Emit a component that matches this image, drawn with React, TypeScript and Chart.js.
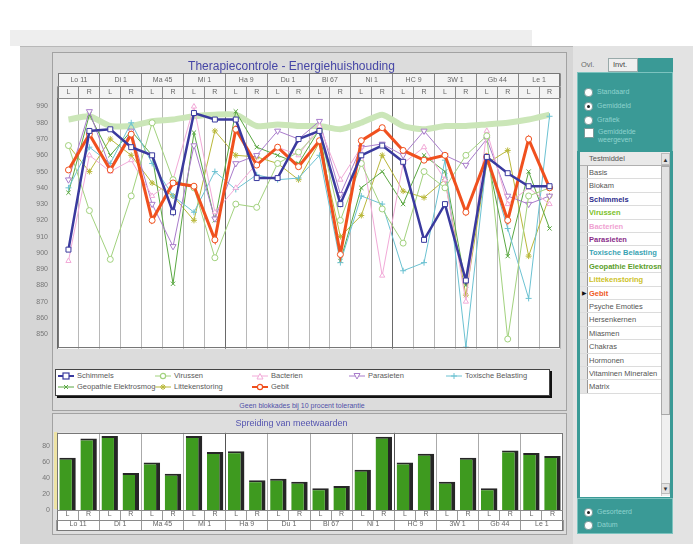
import React, { useEffect, useRef } from 'react';
import { Chart, registerables } from 'chart.js';

Chart.register(...registerables);

const FONT = "'Liberation Sans', Arial, sans-serif";

// ---- categories / ticks ----
const groupLabels = ['Lo 11', 'Di 1', 'Ma 45', 'Mi 1', 'Ha 9', 'Du 1', 'Bl 67', 'Ni 1', 'HC 9', '3W 1', 'Gb 44', 'Le 1'];
const sideLabels = ['L', 'R'];
const yTicks = [990, 980, 970, 960, 950, 940, 930, 920, 910, 900, 890, 880, 870, 860, 850];
const barTicks = [0, 20, 40, 60, 80];

// ---- series values (24 points: L/R per group) ----
const schimmels = [902, 975, 976, 965, 960, 925, 986, 982, 982, 946, 946, 970, 975, 930, 960, 966, 956, 908, 930, 883, 959, 949, 941, 941];
const virussen = [966, 926, 896, 935, 980, 945, 940, 897, 930, 928, 955, 962, 975, 920, 955, 927, 906, 950, 940, 960, 972, 847, 935, 940];
const bacterien = [895, 960, 950, 957, 935, 945, 990, 925, 940, 955, 965, 960, 978, 945, 965, 886, 955, 965, 945, 870, 975, 930, 940, 930];
const parasieten = [945, 987, 952, 975, 930, 904, 966, 921, 955, 960, 975, 970, 981, 936, 965, 967, 960, 975, 960, 954, 970, 935, 930, 935];
const toxische = [940, 965, 955, 980, 955, 935, 925, 950, 939, 948, 945, 946, 960, 894, 935, 930, 889, 894, 957, 842, 958, 915, 872, 984];
const geopathie = [937, 985, 960, 975, 960, 881, 974, 920, 987, 965, 960, 955, 976, 895, 940, 950, 930, 960, 950, 880, 960, 898, 950, 915];
const littekenstoring = [966, 950, 970, 960, 943, 935, 920, 975, 960, 959, 955, 945, 968, 910, 923, 960, 938, 934, 945, 874, 955, 963, 898, 935];
const gebit = [951, 973, 951, 973, 920, 943, 941, 908, 976, 954, 965, 953, 969, 899, 969, 977, 963, 957, 960, 925, 959, 920, 970, 940];
const referentie = [982, 984, 978, 978, 981, 982, 984, 985, 985, 978, 979, 978, 978, 976, 980, 985, 978, 976, 978, 978, 979, 980, 982, 985];
const spreiding = [65, 89, 92, 46, 59, 45, 92, 72, 73, 37, 39, 35, 27, 30, 50, 91, 59, 70, 35, 65, 27, 74, 71, 67];

const TITLE = 'Therapiecontrole - Energiehuishouding';
const BAR_TITLE = 'Spreiding van meetwaarden';
const NOTE = 'Geen blokkades bij 10 procent tolerantie';

const subLabels = groupLabels.flatMap(() => sideLabels);

type Def = { name: string; data: number[]; color: string; width: number; point: string; rotation?: number; order: number; radius: number };

const seriesDefs: Def[] = [
  { name: 'Schimmels', data: schimmels, color: '#3a3a9e', width: 2.5, point: 'rect', order: -2, radius: 3.5 },
  { name: 'Virussen', data: virussen, color: '#a2d27e', width: 1, point: 'circle', order: 1, radius: 3 },
  { name: 'Bacterien', data: bacterien, color: '#f2aad8', width: 1, point: 'triangle', order: 1, radius: 3 },
  { name: 'Parasieten', data: parasieten, color: '#a97ccb', width: 1, point: 'triangle', rotation: 180, order: 1, radius: 3.5 },
  { name: 'Toxische Belasting', data: toxische, color: '#6cc2d2', width: 1, point: 'cross', order: 1, radius: 3 },
  { name: 'Geopathie Elektrosmog', data: geopathie, color: '#5aa842', width: 1, point: 'crossRot', order: 1, radius: 3 },
  { name: 'Littekenstoring', data: littekenstoring, color: '#b9b83a', width: 1, point: 'star', order: 1, radius: 3 },
  { name: 'Gebit', data: gebit, color: '#f0501e', width: 3, point: 'circle', order: -1, radius: 3 },
];

const listItems: { t: string; c?: string }[] = [
  { t: 'Basis' }, { t: 'Biokam' },
  { t: 'Schimmels', c: '#2c2c8c' }, { t: 'Virussen', c: '#7cbf2a' }, { t: 'Bacterien', c: '#f0a2d2' },
  { t: 'Parasieten', c: '#8a2d8a' }, { t: 'Toxische Belasting', c: '#3aa3b3' }, { t: 'Geopathie Elektrosmog', c: '#5a9e2a' },
  { t: 'Littekenstoring', c: '#cdc228' }, { t: 'Gebit', c: '#ee5a1e' },
  { t: 'Psyche Emoties' }, { t: 'Hersenkernen' }, { t: 'Miasmen' }, { t: 'Chakras' }, { t: 'Hormonen' },
  { t: 'Vitaminen Mineralen' }, { t: 'Matrix' },
];

const panelPlugin = {
  id: 'panel',
  beforeDraw(chart: any, _a: any, opts: any) {
    const { ctx, chartArea: a } = chart;
    const xs = chart.scales.x, x2 = chart.scales.x2;
    const top = Math.min(xs.top, x2.top), bottom = Math.max(xs.bottom, x2.bottom);
    ctx.save();
    ctx.fillStyle = opts.band || '#f4f4f4';
    ctx.fillRect(a.left, top, a.right - a.left, bottom - top);
    ctx.fillStyle = '#ffffff';
    ctx.fillRect(a.left, a.top, a.right - a.left, a.bottom - a.top);
    ctx.restore();
  },
  afterDraw(chart: any) {
    const { ctx, chartArea: a } = chart;
    const xs = chart.scales.x, x2 = chart.scales.x2;
    const top = Math.min(xs.top, x2.top, a.top), bottom = Math.max(xs.bottom, x2.bottom, a.bottom);
    ctx.save();
    ctx.strokeStyle = '#777';
    ctx.lineWidth = 1;
    ctx.strokeRect(Math.round(a.left) + 0.5, Math.round(top) + 0.5, Math.round(a.right - a.left) - 1, Math.round(bottom - top) - 1);
    const mids = [xs.top, xs.bottom, x2.top, x2.bottom];
    ctx.strokeStyle = '#8a8a8a';
    mids.forEach((y: number) => {
      if (y > top + 1 && y < bottom - 1) {
        ctx.beginPath();
        ctx.moveTo(a.left, Math.round(y) + 0.5);
        ctx.lineTo(a.right, Math.round(y) + 0.5);
        ctx.stroke();
      }
    });
    ctx.restore();
  },
};

function Swatch({ d }: { d: Def }) {
  const c = d.color;
  let shape: any = null;
  if (d.point === 'rect') shape = <rect x={5} y={1} width={6} height={6} fill="#fff" stroke={c} strokeWidth={1.2} />;
  else if (d.point === 'circle') shape = <circle cx={8} cy={4} r={2.6} fill="#fff" stroke={c} strokeWidth={1.2} />;
  else if (d.point === 'triangle' && d.rotation) shape = <polygon points="5,1.5 11,1.5 8,7" fill="#fff" stroke={c} />;
  else if (d.point === 'triangle') shape = <polygon points="5,7 11,7 8,1.5" fill="#fff" stroke={c} />;
  else if (d.point === 'cross') shape = <path d="M8 1 V7 M5 4 H11" stroke={c} />;
  else if (d.point === 'crossRot') shape = <path d="M6 2 L10 6 M10 2 L6 6" stroke={c} />;
  else if (d.point === 'star') shape = <path d="M8 1 V7 M5 4 H11 M6 2 L10 6 M10 2 L6 6" stroke={c} />;
  return (
    <svg width={16} height={8} style={{ verticalAlign: 'middle', marginRight: 3 }}>
      <line x1={0} y1={4} x2={16} y2={4} stroke={c} strokeWidth={Math.min(d.width, 2)} />
      {shape}
    </svg>
  );
}

function Radio({ checked }: { checked?: boolean }) {
  return (
    <span style={{ display: 'inline-block', width: 7, height: 7, borderRadius: 4, background: '#fff', border: '1px solid #7a9a9a', position: 'relative', verticalAlign: 'middle', marginRight: 4 }}>
      {checked ? <span style={{ position: 'absolute', left: 2, top: 2, width: 3, height: 3, borderRadius: 2, background: '#222' }} /> : null}
    </span>
  );
}

const abs = (left: number, top: number, width: number, height: number, extra: any = {}) => ({ position: 'absolute' as const, left, top, width, height, boxSizing: 'border-box' as const, ...extra });

export default function App() {
  const lineRef = useRef<HTMLCanvasElement>(null);
  const barRef = useRef<HTMLCanvasElement>(null);

  useEffect(() => {
    Chart.defaults.font.family = FONT;
    const tickFont = { size: 7, family: FONT };

    const line = new Chart(lineRef.current!, {
      type: 'line',
      data: {
        labels: subLabels,
        datasets: [
          {
            label: 'Referentie', data: referentie, borderColor: '#cbe6b8', borderWidth: 6, pointRadius: 0,
            tension: 0.2, order: 10,
          } as any,
          ...seriesDefs.map((d) => ({
            label: d.name, data: d.data, borderColor: d.color, borderWidth: d.width,
            pointStyle: d.point as any, pointRotation: d.rotation || 0, pointRadius: d.radius,
            pointBorderColor: d.color, pointBackgroundColor: '#ffffff', pointBorderWidth: 1,
            tension: 0, order: d.order,
          })),
        ],
      },
      options: {
        animation: false, responsive: false, maintainAspectRatio: false,
        layout: { padding: { left: 0, right: 2, top: 0, bottom: 5 } },
        plugins: {
          legend: { display: false }, tooltip: { enabled: false },
          title: { display: true, text: TITLE, color: '#4646a6', font: { size: 12, weight: 'normal', family: FONT }, padding: { top: 4, bottom: 0 } },
          panel: { band: '#f3f3f3' },
        } as any,
        scales: {
          x: {
            type: 'category', position: 'top', offset: true, weight: 0,
            grid: { offset: true, tickLength: 12, color: (c: any) => (c.index % 8 === 0 ? '#6a6a6a' : '#b8b8b8'), tickColor: '#8a8a8a' },
            border: { display: false },
            ticks: { color: '#666', font: tickFont, padding: -10, maxRotation: 0, autoSkip: false },
            afterFit: (s: any) => { s.height = 12; },
          },
          x2: {
            type: 'category', labels: groupLabels, position: 'top', offset: true, weight: 1,
            grid: { offset: true, drawOnChartArea: false, tickLength: 13, color: '#8a8a8a' },
            border: { display: false },
            ticks: { color: '#666', font: tickFont, padding: -11, maxRotation: 0, autoSkip: false },
            afterFit: (s: any) => { s.height = 13; },
          },
          y: {
            min: 841, max: 995,
            grid: { display: false, drawTicks: false }, border: { display: false },
            ticks: { color: '#777', font: tickFont, padding: 10 },
            afterBuildTicks: (s: any) => { s.ticks = yTicks.map((v) => ({ value: v })); },
            afterFit: (s: any) => { s.width = 38; },
          },
        } as any,
      },
      plugins: [panelPlugin],
    });

    const bar = new Chart(barRef.current!, {
      type: 'bar',
      data: {
        labels: subLabels,
        datasets: [{
          label: BAR_TITLE, data: spreiding, backgroundColor: '#3e9a1f', borderColor: '#262626',
          borderWidth: { top: 2, right: 4, bottom: 0, left: 0 } as any, borderSkipped: false as any,
          barPercentage: 0.78, categoryPercentage: 1,
        }],
      },
      options: {
        animation: false, responsive: false, maintainAspectRatio: false,
        layout: { padding: { left: 0, right: 2, top: 0, bottom: 1 } },
        plugins: {
          legend: { display: false }, tooltip: { enabled: false },
          title: { display: true, text: BAR_TITLE, color: '#5555b0', font: { size: 9, weight: 'normal', family: FONT }, padding: { top: 4, bottom: 4 } },
          panel: { band: '#ffffff' },
        } as any,
        scales: {
          x: {
            type: 'category', position: 'bottom', offset: true, weight: 0,
            grid: { offset: true, tickLength: 10, color: (c: any) => (c.index % 8 === 0 ? '#555' : c.index % 2 === 0 ? '#aaa' : 'rgba(0,0,0,0)'), tickColor: '#999' },
            border: { display: false },
            ticks: { color: '#666', font: tickFont, padding: -10, maxRotation: 0, autoSkip: false },
            afterFit: (s: any) => { s.height = 10; },
          },
          x2: {
            type: 'category', labels: groupLabels, position: 'bottom', offset: true, weight: 1,
            grid: { offset: true, drawOnChartArea: false, tickLength: 11, color: '#999' },
            border: { display: false },
            ticks: { color: '#666', font: tickFont, padding: -11, maxRotation: 0, autoSkip: false },
            afterFit: (s: any) => { s.height = 11; },
          },
          y: {
            min: 0, max: 96,
            grid: { display: false, drawTicks: false }, border: { display: false },
            ticks: { color: '#777', font: tickFont, padding: 7 },
            afterBuildTicks: (s: any) => { s.ticks = barTicks.map((v) => ({ value: v })); },
            afterFit: (s: any) => { s.width = 37; },
          },
        } as any,
      },
      plugins: [panelPlugin],
    });

    return () => { line.destroy(); bar.destroy(); };
  }, []);

  const legendCols = [58, 155, 252, 349, 446];
  const rowH = 13.4;

  return (
    <div style={{ position: 'absolute', left: 0, top: 0, width: 700, height: 546, overflow: 'hidden', background: '#ffffff', fontFamily: FONT }}>
      {/* background frames */}
      <div style={abs(10, 30, 522, 16, { background: '#eeeeee' })} />
      <div style={abs(20, 46, 553, 498, { background: '#d6d6d6', borderTop: '1px solid #b8b8b8' })} />
      <div style={abs(573, 46, 120, 498, { background: '#e3e3e3' })} />

      {/* main chart panel */}
      <div style={abs(52, 52, 515, 359, { background: '#dcdcdc', border: '1px solid #a2a2a2' })} />
      <canvas ref={lineRef} width={545} height={308} style={{ position: 'absolute', left: 20, top: 55, width: 545, height: 308 }} />

      {/* legend */}
      <div style={abs(55, 369, 495, 27, { background: '#fff', border: '1px solid #444', boxShadow: '2px 2px 0 #111' })} />
      {seriesDefs.map((d, i) => (
        <div key={d.name} style={abs(legendCols[i % 5], i < 5 ? 371 : 382, 96, 10, { fontSize: 7.5, lineHeight: '10px', color: '#5a5a5a', whiteSpace: 'nowrap' })}>
          <Swatch d={d} />{d.name}
        </div>
      ))}
      <div style={abs(52, 401, 500, 10, { fontSize: 7, lineHeight: '10px', color: '#5050a8', textAlign: 'center' })}>{NOTE}</div>

      {/* bar panel */}
      <div style={abs(52, 413, 515, 122, { background: '#dedede', border: '1px solid #a2a2a2' })} />
      <div style={abs(54, 432, 3, 77, { background: '#eee3a4' })} />
      <canvas ref={barRef} width={545} height={118} style={{ position: 'absolute', left: 20, top: 414, width: 545, height: 118 }} />

      {/* sidebar */}
      <div style={abs(579, 58, 28, 14, { fontSize: 7.5, lineHeight: '14px', color: '#6a6a6a', paddingLeft: 2 })}>Ovl.</div>
      <div style={abs(608, 58, 30, 14, { fontSize: 7.5, lineHeight: '12px', color: '#444', background: '#efefef', border: '1px solid #9aa', paddingLeft: 4 })}>Invt.</div>
      <div style={abs(638, 58, 35, 14, { background: '#3a9a96' })} />
      <div style={abs(577, 72, 96, 80, { background: '#3a9a96', border: '1px solid #7cc3bf' })} />
      {['Standaard', 'Gemiddeld', 'Grafiek'].map((t, i) => (
        <div key={t} style={abs(584, 86 + i * 14, 85, 12, { fontSize: 7, lineHeight: '12px', color: '#8fd3ce', whiteSpace: 'nowrap' })}>
          <Radio checked={i === 1} />{t}
        </div>
      ))}
      <div style={abs(584, 128, 85, 20, { fontSize: 7, lineHeight: '8px', color: '#8fd3ce' })}>
        <span style={{ display: 'inline-block', width: 8, height: 8, background: '#fff', border: '1px solid #7a9a9a', verticalAlign: 'top', marginRight: 4 }} />
        <span style={{ display: 'inline-block', verticalAlign: 'top' }}>Gemiddelde<br />weergeven</span>
      </div>

      {/* list */}
      <div style={abs(577, 151, 96, 347, { background: '#3a9a96' })} />
      <div style={abs(580, 152, 90, 345, { background: '#ffffff' })} />
      <div style={abs(580, 152, 90, 14, { background: '#e9e9e9', borderBottom: '1px solid #b0b0b0' })} />
      <div style={abs(589, 152, 70, 14, { fontSize: 7.5, lineHeight: '14px', color: '#555' })}>Testmiddel</div>
      <div style={abs(661, 153, 9, 12, { fontSize: 6, lineHeight: '12px', color: '#333', textAlign: 'center', background: '#e3e3e3', border: '1px solid #bbb' })}>▲</div>
      <div style={abs(580, 166, 8, listItems.length * rowH, { background: '#e4e4e4', borderRight: '1px solid #999' })} />
      {listItems.map((it, i) => (
        <React.Fragment key={it.t}>
          <div style={abs(580, 166 + i * rowH, 81, rowH, { borderBottom: '1px solid #dcdcdc' })} />
          <div style={abs(589, 166 + i * rowH, 72, rowH, { fontSize: 7.5, lineHeight: `${rowH}px`, color: it.c || '#555', fontWeight: it.c ? 'bold' : 'normal', whiteSpace: 'nowrap', overflow: 'hidden' })}>{it.t}</div>
          {it.t === 'Gebit' ? <div style={abs(580, 166 + i * rowH, 8, rowH, { fontSize: 6, lineHeight: `${rowH}px`, color: '#111', textAlign: 'center' })}>▶</div> : null}
        </React.Fragment>
      ))}
      <div style={abs(661, 166, 9, 330, { background: '#f0f0f0', borderLeft: '1px solid #ccc' })} />
      <div style={abs(661, 166, 9, 249, { background: '#e2e2e2', border: '1px solid #a8a8a8' })} />
      <div style={abs(661, 483, 9, 11, { fontSize: 6, lineHeight: '11px', color: '#333', textAlign: 'center', background: '#e3e3e3', border: '1px solid #bbb' })}>▼</div>

      {/* bottom teal panel */}
      <div style={abs(577, 498, 96, 36, { background: '#3a9a96', border: '1px solid #7cc3bf' })} />
      {['Gesorteerd', 'Datum'].map((t, i) => (
        <div key={t} style={abs(584, 506 + i * 13, 85, 12, { fontSize: 7, lineHeight: '12px', color: '#8fd3ce' })}>
          <Radio checked={i === 0} />{t}
        </div>
      ))}
    </div>
  );
}
